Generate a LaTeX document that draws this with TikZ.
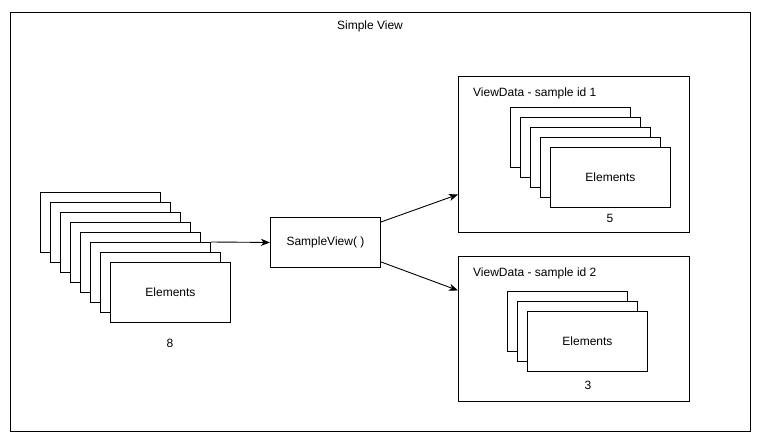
\documentclass[tikz,border=0pt]{standalone}
\usepackage{fontspec}
\setmainfont{Liberation Sans}
\usetikzlibrary{arrows.meta}
\begin{document}
\begin{tikzpicture}[x=1pt,y=-1pt,
  card/.style={draw, fill=white, line width=0.9pt, minimum width=120pt, minimum height=60pt, inner sep=0pt, anchor=north west, font=\fontsize{12}{14}\selectfont},
  frame/.style={draw, line width=0.9pt, inner sep=0pt, anchor=north west},
  lbl/.style={font=\fontsize{12}{14}\selectfont, inner sep=0pt},
  arr/.style={-{Stealth[length=9pt,width=7pt,inset=2.5pt]}, line width=0.9pt}]
\useasboundingbox (0,0) rectangle (763,441);
\node[frame, minimum width=740pt, minimum height=419pt] (outer) at (10,12) {};
\node[lbl] (title) at (370,26) {Simple View};
% left stack
\foreach \i in {0,...,6} \node[card] (L\i) at (40+10*\i, 192+10*\i) {};
\node[card] (L7) at (110,262) {Elements};
\node[lbl] (n8) at (170,343) {8};
% SampleView
\node[card, minimum width=110pt, minimum height=50pt] (sv) at (270,217) {SampleView( )};
% box 1
\node[frame, minimum width=231pt, minimum height=156pt] (vd1) at (458,76) {};
\node[lbl, anchor=west] (t1) at (473,93) {ViewData - sample id 1};
\foreach \i in {0,...,3} \node[card] (A\i) at (510+10*\i, 107+10*\i) {};
\node[card] (A4) at (550,147) {Elements};
\node[lbl] (n5) at (610,218) {5};
% box 2
\node[frame, minimum width=231pt, minimum height=145pt] (vd2) at (458,256) {};
\node[lbl, anchor=west] (t2) at (473,273) {ViewData - sample id 2};
\foreach \i in {0,...,1} \node[card] (B\i) at (507+10*\i, 291+10*\i) {};
\node[card] (B2) at (527,311) {Elements};
\node[lbl] (n3) at (588,385) {3};
% connectors
\draw[arr] (L5.north east) -- (sv.west);
\draw[arr] ([yshift=-5pt]sv.north east) -- ([yshift=-40pt]vd1.west);
\draw[arr] ([yshift=6pt]sv.south east) -- ([yshift=38.5pt]vd2.west);
\end{tikzpicture}
\end{document}
